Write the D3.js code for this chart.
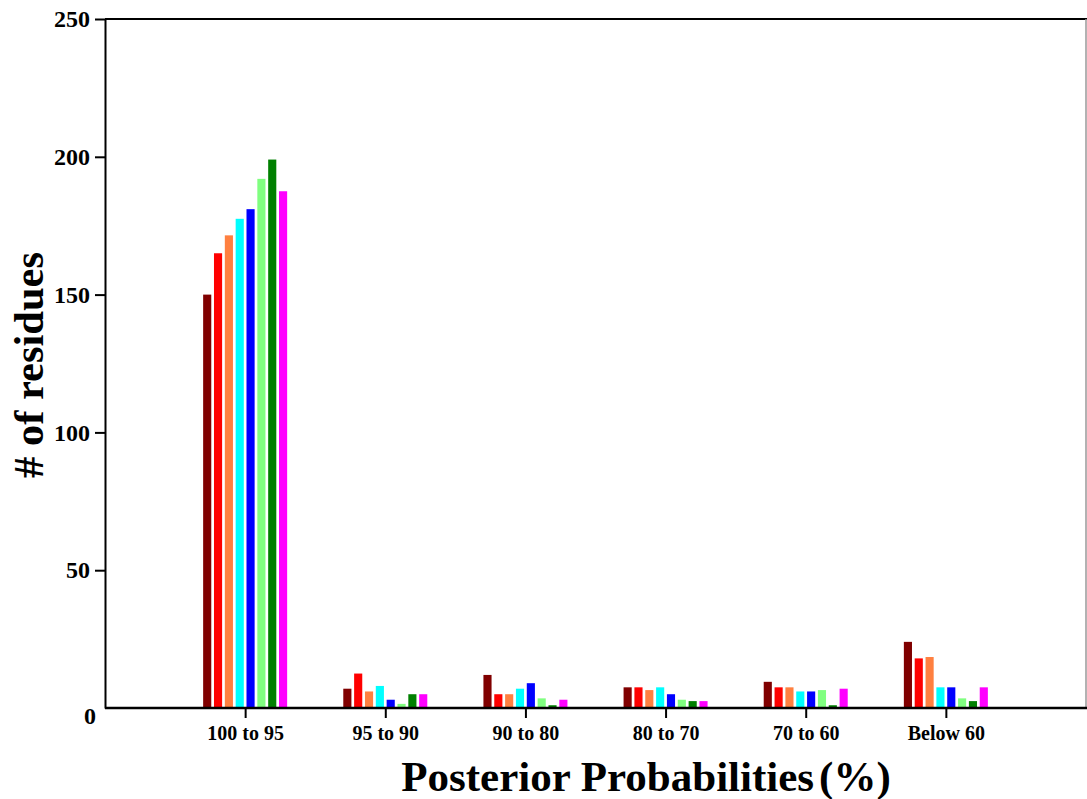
<!DOCTYPE html>
<html>
<head>
<meta charset="utf-8">
<script src="https://cdn.jsdelivr.net/npm/d3@7"></script>
<style>
  body { margin: 0; background: #fff; }
  text { font-family: "Liberation Serif", "Times New Roman", serif; font-weight: bold; }
</style>
</head>
<body>
<svg id="chart" width="1087" height="799"></svg>
<script>
// categories on the x axis
const categories = ['100 to 95', '95 to 90', '90 to 80', '80 to 70', '70 to 60', 'Below 60'];
const yTicks = [0, 50, 100, 150, 200, 250];

// one array per series (bar colour order inside each group)
const seriesNames = ['s1', 's2', 's3', 's4', 's5', 's6', 's7', 's8'];
const s1 = [150, 7, 12, 7.5, 9.5, 24];
const s2 = [165, 12.5, 5, 7.5, 7.5, 18];
const s3 = [171.5, 6, 5, 6.5, 7.5, 18.5];
const s4 = [177.5, 8, 7, 7.5, 6, 7.5];
const s5 = [181, 3, 9, 5, 6, 7.5];
const s6 = [192, 1.5, 3.5, 3, 6.5, 3.5];
const s7 = [199, 5, 1, 2.5, 1, 2.5];
const s8 = [187.5, 5, 3, 2.5, 7, 7.5];
const seriesValues = [s1, s2, s3, s4, s5, s6, s7, s8];
const colors = ['#800000', '#ff0000', '#ff8040', '#00ffff', '#0000ff', '#80ff80', '#008000', '#ff00ff'];

const svg = d3.select('#chart');
const mLeft = 105, mRight = 1086, mTop = 19, mBottom = 708;

// scales
const x = d3.scalePoint().domain(categories).range([mLeft, mRight]).padding(1);
const xs = d3.scaleBand().domain(seriesNames).range([-42, 42]).paddingInner(0.25);
const y = d3.scaleLinear().domain([0, 250]).range([mBottom, mTop]);

// bars
const groups = svg.append('g').selectAll('g')
  .data(categories)
  .join('g')
  .attr('transform', d => 'translate(' + x(d) + ',0)');

groups.selectAll('rect')
  .data((d, i) => seriesNames.map((s, j) => ({ s: s, v: seriesValues[j][i], c: colors[j] })))
  .join('rect')
  .attr('x', d => xs(d.s))
  .attr('width', xs.bandwidth())
  .attr('y', d => y(d.v))
  .attr('height', d => y(0) - y(d.v))
  .attr('fill', d => d.c);

// frame: top line and grey right border
svg.append('line').attr('x1', mLeft).attr('x2', mRight + 1).attr('y1', mTop).attr('y2', mTop)
  .attr('stroke', '#000').attr('stroke-width', 2);
svg.append('line').attr('x1', mRight).attr('x2', mRight).attr('y1', mTop).attr('y2', mBottom)
  .attr('stroke', '#999').attr('stroke-width', 1.5);

// y axis
const yAxis = svg.append('g').attr('transform', 'translate(' + mLeft + ',0)')
  .call(d3.axisLeft(y).tickValues(yTicks).tickSize(10).tickSizeOuter(0).tickPadding(5));
yAxis.select('.domain').attr('stroke-width', 2);
yAxis.selectAll('.tick line').attr('stroke-width', 2);
yAxis.selectAll('.tick text').attr('font-size', 24).attr('font-family', null).attr('fill', '#000');
yAxis.selectAll('.tick').filter(d => d === 0).select('line').remove();
yAxis.selectAll('.tick').filter(d => d === 0).select('text').attr('x', -9).attr('dy', '0.65em');

// x axis
const xAxis = svg.append('g').attr('transform', 'translate(0,' + mBottom + ')')
  .call(d3.axisBottom(x).tickSize(10).tickSizeOuter(0).tickPadding(8));
xAxis.select('.domain').attr('d', 'M' + mLeft + ',0H' + (mRight + 1)).attr('stroke-width', 2.5);
xAxis.selectAll('.tick line').attr('stroke-width', 2);
xAxis.selectAll('.tick text').attr('font-size', 20).attr('font-family', null).attr('fill', '#000');

// axis titles
svg.append('text')
  .attr('transform', 'translate(43,' + 365 + ') rotate(-90)')
  .attr('text-anchor', 'middle')
  .attr('font-size', 42.5)
  .text('# of residues');

const xTitle = svg.append('text')
  .attr('x', 646).attr('y', 791)
  .attr('text-anchor', 'middle')
  .attr('font-size', 43);
xTitle.append('tspan').text('Posterior Probabilities');
xTitle.append('tspan').attr('dx', 5).text('(%)');
</script>
</body>
</html>
